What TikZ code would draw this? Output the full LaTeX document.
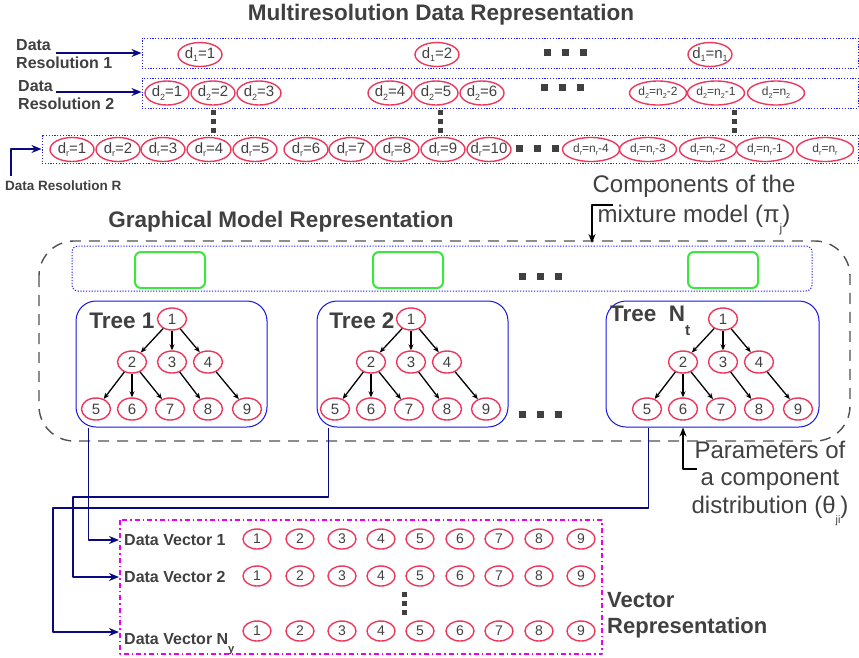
\documentclass[tikz,border=0pt]{standalone}
\usepackage{fontspec}
\setmainfont{Liberation Sans}
\usetikzlibrary{arrows.meta,shapes.geometric}
\definecolor{ink}{RGB}{64,64,64}
\definecolor{navy}{RGB}{10,10,128}
\definecolor{pinkred}{RGB}{236,56,92}
\definecolor{dotblue}{RGB}{30,30,240}
\definecolor{treeblue}{RGB}{20,20,230}
\definecolor{boxgreen}{RGB}{60,230,60}
\definecolor{dashgray}{RGB}{80,80,80}
\definecolor{vecmag}{RGB}{235,0,235}
\newcommand{\fsz}[2]{\fontsize{#1}{#2}\selectfont}
\newcommand{\dsub}[3][.25em]{\raisebox{-#1}{\fontsize{#2}{#2}\selectfont #3}}
\newcommand{\dl}[2]{\makebox[0pt]{d\dsub{.6em}{#1}=#2}}
\newcommand{\hsq}[2]{\foreach \i in {-1,0,1} \fill[ink] (#1+\i*18-3.5,#2-3.5) rectangle ++(7,7);}
\newcommand{\vsq}[2]{\foreach \i in {-1,0,1} \fill[ink] (#1-2.5,#2+\i*9-2.5) rectangle ++(5,5);}
\begin{document}
\begin{tikzpicture}[x=1pt,y=-1pt,line join=round,
  every node/.style={text=ink,inner sep=0pt},
  arr/.style={draw=navy,line width=1.7pt,-{Stealth[length=10pt,width=8pt]}},
  barr/.style={draw=black,line width=1.4pt,-{Stealth[length=9pt,width=7pt]}},
  tarr/.style={draw=black,line width=1.3pt,-{Stealth[length=6pt,width=5pt]}},
  rowbox/.style={draw=dotblue,line width=1pt,dash pattern=on 1.2pt off 1.6pt},
  dnode/.style={ellipse,draw=pinkred,line width=1.4pt,minimum width=44,minimum height=24,font=\fsz{15}{15}},
  dwide/.style={dnode,minimum width=57,font=\fsz{12}{12}},
  tnode/.style={ellipse,draw=pinkred,line width=1.4pt,minimum width=29,minimum height=22,font=\fsz{15}{15}},
  vnode/.style={tnode,minimum width=28,minimum height=20,font=\fsz{14}{14}},
  tbox/.style={draw=treeblue,line width=1pt,rounded corners=20pt,minimum height=126},
  cbox/.style={draw=boxgreen,line width=2pt,rounded corners=6pt,minimum width=70,minimum height=36},
  lbl/.style={font=\bfseries\fsz{16}{18},align=left},
  head/.style={font=\bfseries\fsz{22.5}{26}},
  note/.style={align=center}]
\useasboundingbox (0,0) rectangle (859,657);
% multiresolution data
\node[head] (title) at (441,15) {Multiresolution Data Representation};
\node[rowbox,minimum width=716,minimum height=30] (row1) at (500,53) {};
\node[rowbox,minimum width=716,minimum height=30] (row2) at (500,93) {};
\node[rowbox,minimum width=816,minimum height=28] (row3) at (450,149) {};
\node[lbl,anchor=west] (res1) at (16,54) {Data\\Resolution 1};
\node[lbl,anchor=west] (res2) at (18,95) {Data\\Resolution 2};
\node[font=\bfseries\fsz{13.5}{16},anchor=west] (resR) at (5,186) {Data Resolution R};
\coordinate (a1) at (56,53);
\coordinate (a2) at (56,92);
\coordinate (aR) at (11,176);
\draw[arr] (a1) -- (a1 -| row1.west);
\draw[arr] (a2) -- (a2 -| row2.west);
\draw[arr] (aR) |- (row3.west);
\foreach \v/\x in {1/200,2/437} \node[dnode] (r1\v) at (\x,54.5) {\dl{1}{\v}};
\node[dnode] (r1n) at (710,54.5) {\dl{1}{n\dsub{.6em}{1}}};
\foreach \v/\x in {1/167,2/213,3/259,4/390,5/436,6/482} \node[dnode] (r2\v) at (\x,93) {\dl{2}{\v}};
\foreach \v/\x/\l in {a/658/-2,b/716/-1,c/776/} \node[dwide] (r2\v) at (\x,93) {\dl{2}{n\dsub{.6em}{2}\l}};
\foreach \v/\x in {1/72,2/118,3/163,4/209,5/255,6/306,7/351,8/397,9/443,10/489} \node[dnode] (r3\v) at (\x,149.5) {\dl{r}{\v}};
\foreach \v/\x/\l in {a/591/-4,b/648/-3,c/708/-2,d/765/-1,e/825/} \node[dwide] (r3\v) at (\x,149.5) {\dl{r}{n\dsub{.6em}{r}\l}};
\hsq{565}{52}
\hsq{562}{87}
\hsq{537}{148}
\vsq{213}{121}
\vsq{440}{121}
\vsq{734}{121}
% graphical model
\node[head] (gmr) at (281,222) {Graphical Model Representation};
\draw[dashgray,line width=1.4pt,dash pattern=on 11pt off 8pt,rounded corners=35pt] (39,241) rectangle (850,441);
\draw[rowbox,rounded corners=6pt] (72,246) rectangle (812,291);
\foreach \x in {170,408,723} \node[cbox] at (\x,270) {};
\hsq{540}{276}
\foreach \t/\cx/\w/\rx in {1/171.5/191/172,2/412.5/191/411,3/712.5/213/723}{
  \node[tbox,minimum width=\w] (tb\t) at (\cx,364) {};
  \node[tnode] (t\t1) at (\rx,319) {1};
  \foreach \n/\dx/\dy in {2/-40/43,3/0/43,4/36/43,5/-76/90,6/-40/90,7/-2/90,8/36/90,9/75/90}
    \node[tnode] (t\t\n) at (\rx+\dx,319+\dy) {\n};
  \foreach \a/\b in {1/2,1/3,1/4,2/5,2/6,2/7,3/8,4/9}
    \draw[tarr] (t\t\a) -- (t\t\b);
}
\node[head] (tn1) at (122,321) {Tree 1};
\node[head] (tn2) at (362,321) {Tree 2};
\node[head,anchor=west] (tn3) at (610,321) {Tree\ \ N\dsub[.64em]{.68em}{t}};
\hsq{540}{414}
\node[note,font=\fsz{24}{30}] (comp) at (694,205) {Components of the\\mixture model (π\dsub[.45em]{.5em}{j})};
\node[note,font=\fsz{24}{27.5}] (par) at (770,483) {Parameters of\\a component\\distribution (θ\dsub[.42em]{.45em}{ji})};
\coordinate (ca) at (613,205);
\coordinate (cb) at (592,243);
\coordinate (pa) at (697,469);
\draw[barr] (ca) -| (cb);
\draw[barr] (pa) -| (t36 |- tb3.south);
% vector representation
\draw[vecmag,line width=1.5pt,dash pattern=on 5pt off 3pt on 1.5pt off 3pt] (120,520) rectangle (602,654);
\node[font=\bfseries\fsz{16}{18},anchor=west] (dv1) at (124,540) {Data Vector 1};
\node[font=\bfseries\fsz{16}{18},anchor=west] (dv2) at (124,577) {Data Vector 2};
\node[font=\bfseries\fsz{16}{18},anchor=base west] (dvn) at (124,644) {Data Vector N\dsub[.5em]{.7em}{y}};
\foreach \r/\y in {1/539,2/576,3/631}
  \foreach \i/\x in {1/257,2/300,3/342,4/381,5/420,6/460,7/499,8/539,9/581}
    \node[vnode] (v\r\i) at (\x,\y) {\i};
\vsq{404}{603}
\node[font=\bfseries\fsz{22}{26},align=left,anchor=west] (vrep) at (607,615) {Vector\\Representation};
\draw[arr,shorten >=5pt] ([xshift=13pt]tb1.south west) |- (dv1.west);
\draw[arr,shorten >=5pt] ([xshift=12pt]tb2.south west) |- (73,497) |- (dv2.west);
\draw[arr,shorten >=5pt] ([xshift=43pt]tb3.south west) |- (53,508) |- ([yshift=12pt]dvn.base west);
\end{tikzpicture}
\end{document}
